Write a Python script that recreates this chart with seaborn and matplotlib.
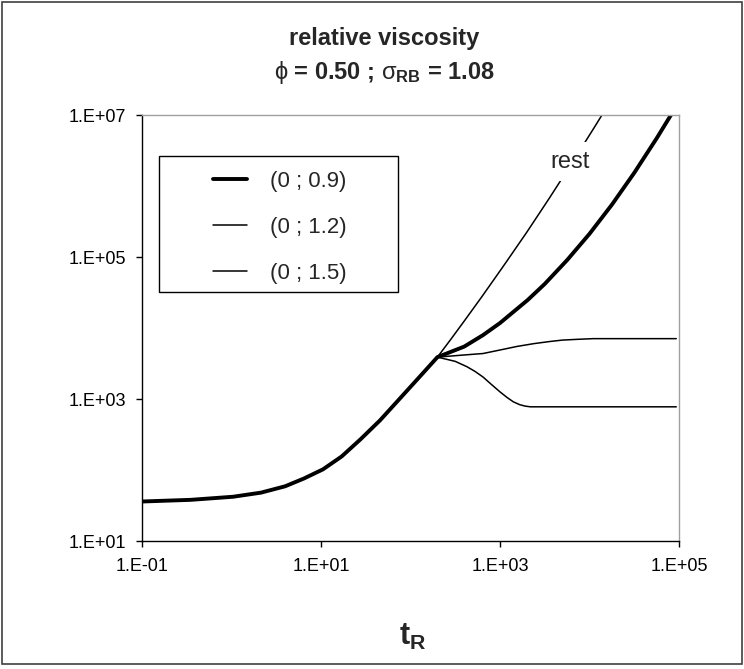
"""Relative viscosity vs t_R, log-log, Excel-style chart."""
import matplotlib
matplotlib.use("Agg")
import matplotlib.pyplot as plt
from matplotlib.patches import Rectangle
from matplotlib.ticker import FixedLocator, FixedFormatter, NullLocator
import pandas as pd
import seaborn as sns

# shared start of every curve (up to the branching point)
base_t = [0.1, 0.35, 1.04, 2.14, 3.98, 6.46, 10.5, 17, 27.5, 45.7, 74, 120, 200]
base_eta = [36, 38, 42, 48, 59, 76, 102, 155, 269, 501, 977, 1910, 3890]

# (0 ; 0.9) continuation - thick line
s09_t = [200, 398, 646, 1000, 2040, 3160, 5620, 10000, 17800, 31600, 56200, 81300, 93300]
s09_eta = [3890, 5470, 7940, 11750, 24800, 41700, 90400, 212000, 546000, 1.53e6, 4.68e6,
           1.0e7, 1.35e7]

# (0 ; 1.2)
s12_t = [200, 398, 646, 1000, 1550, 2400, 3630, 5010, 7240, 11000, 93300]
s12_eta = [3890, 4170, 4370, 4900, 5500, 6030, 6460, 6760, 6920, 7080, 7080]

# (0 ; 1.5)
s15_t = [200, 316, 427, 525, 646, 794, 1000, 1200, 1410, 1660, 1910, 2190, 93300]
s15_eta = [3890, 3390, 2850, 2450, 2040, 1620, 1260, 1050, 912, 832, 794, 776, 776]

# rest curve
rest_t = [200, 282, 398, 631, 1120, 2000, 3550, 6310, 11200, 17800]
rest_eta = [3890, 6920, 12500, 27900, 78000, 225000, 671000, 2.07e6, 6.55e6, 1.68e7]

x_ticks = [0.1, 10, 1000, 1e5]
x_labels = ["1.E-01", "1.E+01", "1.E+03", "1.E+05"]
y_ticks = [10, 1000, 1e5, 1e7]
y_labels = ["1.E+01", "1.E+03", "1.E+05", "1.E+07"]

sns.set_theme(style="ticks")
plt.rcParams["font.family"] = ["Liberation Sans", "DejaVu Sans"]
plt.rcParams["mathtext.fontset"] = "custom"
plt.rcParams["mathtext.rm"] = "Liberation Sans"
plt.rcParams["mathtext.bf"] = "Liberation Sans:bold"
plt.rcParams["mathtext.it"] = "Liberation Sans:italic"
plt.rcParams["mathtext.default"] = "rm"

fig = plt.figure(figsize=(7.44, 6.69), dpi=100, facecolor="white")
ax = fig.add_axes([142 / 744, 1 - 541 / 669, 537 / 744, 426 / 669])
ax.set_facecolor("white")

df09 = pd.DataFrame({"t": base_t + s09_t[1:], "eta": base_eta + s09_eta[1:]})
df12 = pd.DataFrame({"t": s12_t, "eta": s12_eta})
df15 = pd.DataFrame({"t": s15_t, "eta": s15_eta})
dfrest = pd.DataFrame({"t": rest_t, "eta": rest_eta})

sns.lineplot(data=dfrest, x="t", y="eta", color="black", linewidth=1.1, sort=False, ax=ax)
sns.lineplot(data=df12, x="t", y="eta", color="black", linewidth=1.1, sort=False, ax=ax,
             label="(0 ; 1.2)")
sns.lineplot(data=df15, x="t", y="eta", color="black", linewidth=1.1, sort=False, ax=ax,
             label="(0 ; 1.5)")
sns.lineplot(data=df09, x="t", y="eta", color="black", linewidth=2.8, sort=False, ax=ax,
             label="(0 ; 0.9)")

ax.set_xscale("log")
ax.set_yscale("log")
ax.set_xlim(0.1, 1e5)
ax.set_ylim(10, 1e7)
ax.xaxis.set_major_locator(FixedLocator(x_ticks))
ax.xaxis.set_major_formatter(FixedFormatter(x_labels))
ax.yaxis.set_major_locator(FixedLocator(y_ticks))
ax.yaxis.set_major_formatter(FixedFormatter(y_labels))
ax.xaxis.set_minor_locator(NullLocator())
ax.yaxis.set_minor_locator(NullLocator())
ax.tick_params(axis="both", direction="out", length=4.3, width=1, color="black",
               labelsize=13, labelcolor="black")
ax.tick_params(axis="x", pad=8)
ax.tick_params(axis="y", pad=7)
ax.set_xlabel("")
ax.set_ylabel("")
for side in ["left", "bottom"]:
    ax.spines[side].set_color("black")
    ax.spines[side].set_linewidth(1)
for side in ["top", "right"]:
    ax.spines[side].set_color("#a0a0a0")
    ax.spines[side].set_linewidth(1)
    ax.spines[side].set_visible(True)

# "rest" label sits on the rest curve, its white box hides the line behind it
ax.text(6000, 2.2e6, "rest", fontsize=17, ha="center", va="center", zorder=4,
        bbox=dict(facecolor="white", edgecolor="none", pad=6))

handles, labels = ax.get_legend_handles_labels()
order = [labels.index(l) for l in ["(0 ; 0.9)", "(0 ; 1.2)", "(0 ; 1.5)"]]
ax.legend([handles[i] for i in order], [labels[i] for i in order],
          loc="upper left", bbox_to_anchor=((213 - 142) / 537, 0.868),
          frameon=False, borderaxespad=0, borderpad=0, fontsize=16,
          handlelength=1.55, handletextpad=1.0, labelspacing=1.125)
ax.add_patch(Rectangle(((159 - 142) / 537, 1 - (292 - 115) / 426), (398 - 159) / 537,
                       (292 - 156) / 426, transform=ax.transAxes, fill=False,
                       edgecolor="black", linewidth=1, zorder=5))

fig.text(384 / 744, 1 - 38 / 669, "relative viscosity", ha="center", va="center",
         fontsize=17, fontweight="bold")
fig.text(384 / 744, 1 - 72 / 669, r"$\phi$ = 0.50 ; $\sigma_{\mathbf{RB}}$ = 1.08",
         ha="center", va="center", fontsize=17, fontweight="bold")
fig.text(413 / 744, 1 - 637 / 669, r"$\mathbf{t_R}$", ha="center", va="center", fontsize=22)

fig.add_artist(Rectangle((0.003, 0.008), 0.994, 0.989, transform=fig.transFigure,
                         fill=False, edgecolor="#404040", linewidth=1.2))

fig.savefig("out.png", dpi=100, facecolor="white")
